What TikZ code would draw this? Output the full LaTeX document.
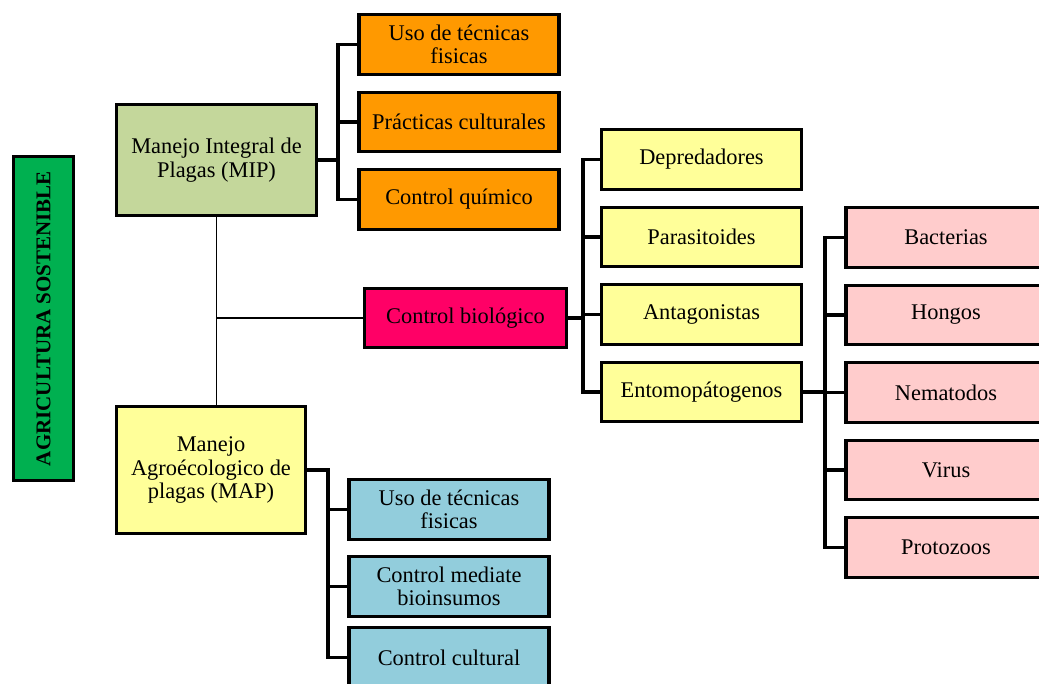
\documentclass[tikz,border=0pt]{standalone}
\usepackage{fontspec}
\setmainfont{Liberation Serif}
\usetikzlibrary{positioning}

\definecolor{verde}{HTML}{00B050}
\definecolor{olivo}{HTML}{C4D79B}
\definecolor{amarillo}{HTML}{FFFF99}
\definecolor{naranja}{HTML}{FF9900}
\definecolor{rosa}{HTML}{FFCCCC}
\definecolor{fucsia}{HTML}{FF0066}
\definecolor{celeste}{HTML}{92CDDC}

\begin{document}
\begin{tikzpicture}[x=1pt,y=-1pt,node distance=77.5pt,on grid,
  caja/.style={draw, line width=3.4pt, minimum width=200pt, minimum height=59.5pt,
    align=center, inner sep=2pt, font=\fontsize{22.4}{23.5}\selectfont},
  rama/.style={line width=3.6pt},
  tronco/.style={line width=1.6pt}]
  \useasboundingbox (0,0) rectangle (1039,683);

  \node[caja, fill=verde, rotate=90, minimum width=323.5pt, minimum height=59.5pt,
    font=\fontsize{21}{23}\selectfont\bfseries] (agri) at (43.5,318.5) {AGRICULTURA SOSTENIBLE};

  \node[caja, fill=olivo, minimum width=199.5pt, minimum height=110.5pt] (mip) at (216.5,160)
    {Manejo Integral de\\Plagas (MIP)};
  \node[caja, fill=amarillo, minimum width=188.5pt, minimum height=126.5pt] (map) at (211,470)
    {Manejo\\Agroécologico de\\plagas (MAP)};
  \node[caja, fill=fucsia, minimum width=201.5pt] (bio) at (465.5,318) {Control biológico};

  \node[caja, fill=naranja]               (o1) at (459,44.5) {Uso de técnicas\\fisicas};
  \node[caja, fill=naranja, below=of o1]  (o2) {Prácticas culturales};
  \node[caja, fill=naranja, below=of o2]  (o3) {Control químico};

  \node[caja, fill=amarillo]              (a1) at (701.5,159.5) {Depredadores};
  \node[caja, fill=amarillo, below=of a1] (a2) {Parasitoides};
  \node[caja, fill=amarillo, below=of a2] (a3) {Antagonistas};
  \node[caja, fill=amarillo, below=of a3] (a4) {Entomopátogenos};

  \node[caja, fill=rosa]                  (r1) at (946,237.5) {Bacterias};
  \node[caja, fill=rosa, below=of r1]     (r2) {Hongos};
  \node[caja, fill=rosa, below=of r2]     (r3) {Nematodos};
  \node[caja, fill=rosa, below=of r3]     (r4) {Virus};
  \node[caja, fill=rosa, below=of r4]     (r5) {Protozoos};

  \node[caja, fill=celeste]                    (c1) at (449,509.5) {Uso de técnicas\\fisicas};
  \node[caja, fill=celeste, below=77pt of c1]  (c2) {Control mediate\\bioinsumos};
  \node[caja, fill=celeste, below=71pt of c2]  (c3) {Control cultural};

  \draw[tronco] (mip.south) -- (mip.south |- map.north);
  \draw[tronco] (bio.west) -- (bio.west -| mip.south);

  \foreach \n in {o1,o2,o3}
    \draw[rama] (mip.east) -- ++(20,0) |- (\n.west);
  \foreach \n in {a1,a2,a3,a4}
    \draw[rama] (bio.east) -- ++(15,0) |- (\n.west);
  \foreach \n in {r1,r2,r3,r4,r5}
    \draw[rama] (a4.east) -- ++(22,0) |- (\n.west);
  \foreach \n in {c1,c2,c3}
    \draw[rama] (map.east) -- ++(21,0) |- (\n.west);
\end{tikzpicture}
\end{document}
